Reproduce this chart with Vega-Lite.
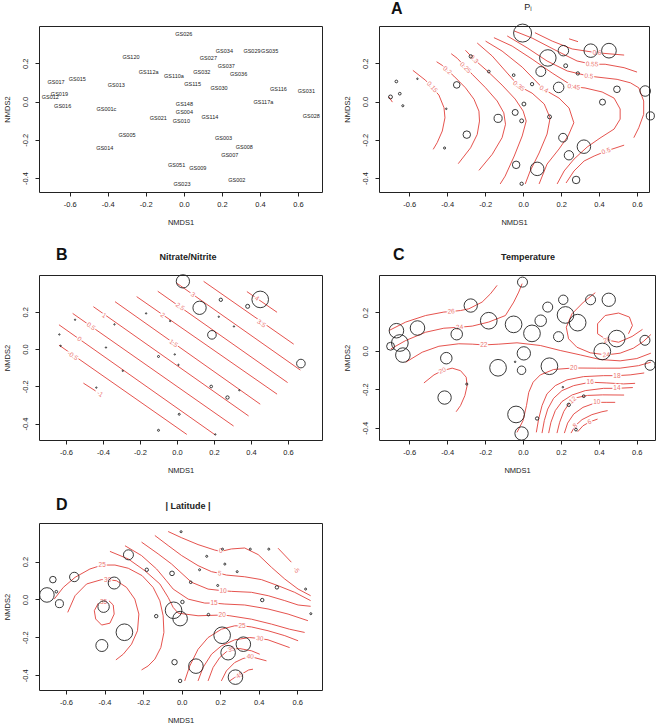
{
"$schema":"https://vega.github.io/schema/vega-lite/v6.json",
"background":"white",
"padding":{"left":3,"top":0,"right":3,"bottom":3},
"datasets":{
"sites":[
{"s":"GS026","x":-0.003,"y":0.358,"lx":0.0,"ly":0.354,"pi":0.6,"t":16.5,"lat":5.5},
{"s":"GS034","x":0.212,"y":0.266,"lx":0.213,"ly":0.265,"pi":0.35,"t":15.5,"lat":5.5},
{"s":"GS029","x":0.356,"y":0.266,"lx":0.358,"ly":0.265,"pi":0.45,"t":16.5,"lat":5.5},
{"s":"GS035","x":0.452,"y":0.266,"lx":0.451,"ly":0.265,"pi":0.49,"t":22,"lat":5.5},
{"s":"GS120","x":-0.276,"y":0.236,"lx":-0.278,"ly":0.235,"pi":0.11,"t":22,"lat":27.5},
{"s":"GS027","x":0.13,"y":0.228,"lx":0.129,"ly":0.226,"pi":0.55,"t":16.5,"lat":5.5},
{"s":"GS037","x":0.224,"y":0.187,"lx":0.223,"ly":0.186,"pi":0.13,"t":27.5,"lat":5.5},
{"s":"GS112a","x":-0.181,"y":0.157,"lx":-0.185,"ly":0.156,"pi":0.09,"t":27.5,"lat":9.4},
{"s":"GS032","x":0.093,"y":0.157,"lx":0.094,"ly":0.153,"pi":0.33,"t":19,"lat":5.5},
{"s":"GS036","x":0.288,"y":0.147,"lx":0.288,"ly":0.146,"pi":0.11,"t":27.5,"lat":5.5},
{"s":"GS110a","x":-0.05,"y":0.138,"lx":-0.052,"ly":0.136,"pi":0.09,"t":27.5,"lat":12.7},
{"s":"GS015","x":-0.557,"y":0.119,"lx":-0.56,"ly":0.12,"pi":0.05,"t":24,"lat":25.9},
{"s":"GS017","x":-0.668,"y":0.105,"lx":-0.672,"ly":0.102,"pi":0.09,"t":24,"lat":18},
{"s":"GS013","x":-0.35,"y":0.087,"lx":-0.355,"ly":0.087,"pi":0.22,"t":19,"lat":33},
{"s":"GS115","x":0.047,"y":0.091,"lx":0.046,"ly":0.092,"pi":0.11,"t":27.5,"lat":7.2},
{"s":"GS030","x":0.187,"y":0.074,"lx":0.185,"ly":0.073,"pi":0.35,"t":16.5,"lat":5.5},
{"s":"GS116","x":0.494,"y":0.064,"lx":0.497,"ly":0.064,"pi":0.22,"t":27.5,"lat":9.4},
{"s":"GS031","x":0.643,"y":0.055,"lx":0.644,"ly":0.054,"pi":0.35,"t":16.5,"lat":5.5},
{"s":"GS019","x":-0.65,"y":0.041,"lx":-0.654,"ly":0.04,"pi":0.09,"t":27.5,"lat":7.2},
{"s":"GS012","x":-0.699,"y":0.024,"lx":-0.702,"ly":0.024,"pi":0.13,"t":13,"lat":40},
{"s":"GS016","x":-0.634,"y":-0.022,"lx":-0.637,"ly":-0.021,"pi":0.07,"t":24,"lat":22},
{"s":"GS117a","x":0.418,"y":-0.003,"lx":0.418,"ly":-0.004,"pi":0.2,"t":27.5,"lat":9.4},
{"s":"GS148","x":0.004,"y":-0.013,"lx":0.003,"ly":-0.014,"pi":0.13,"t":22,"lat":9.4},
{"s":"GS001c","x":-0.405,"y":-0.038,"lx":-0.407,"ly":-0.037,"pi":0.05,"t":19,"lat":31.4},
{"s":"GS004","x":-0.042,"y":-0.057,"lx":0.003,"ly":-0.055,"pi":0.2,"t":2.5,"lat":45.7},
{"s":"GS114","x":0.139,"y":-0.08,"lx":0.137,"ly":-0.081,"pi":0.13,"t":27.5,"lat":7.2},
{"s":"GS021","x":-0.132,"y":-0.088,"lx":-0.134,"ly":-0.088,"pi":0.27,"t":27.5,"lat":9.4},
{"s":"GS010","x":-0.008,"y":-0.101,"lx":-0.013,"ly":-0.102,"pi":0.13,"t":14,"lat":40},
{"s":"GS028","x":0.67,"y":-0.075,"lx":0.67,"ly":-0.076,"pi":0.27,"t":16.5,"lat":5.5},
{"s":"GS005","x":-0.297,"y":-0.173,"lx":-0.299,"ly":-0.173,"pi":0.25,"t":3.5,"lat":45.7},
{"s":"GS003","x":0.21,"y":-0.189,"lx":0.209,"ly":-0.191,"pi":0.29,"t":2.5,"lat":45.7},
{"s":"GS014","x":-0.414,"y":-0.243,"lx":-0.416,"ly":-0.241,"pi":0.07,"t":22,"lat":33},
{"s":"GS008","x":0.32,"y":-0.236,"lx":0.318,"ly":-0.238,"pi":0.45,"t":4.5,"lat":40},
{"s":"GS007","x":0.241,"y":-0.281,"lx":0.241,"ly":-0.28,"pi":0.31,"t":5.5,"lat":40},
{"s":"GS051","x":-0.037,"y":-0.331,"lx":-0.038,"ly":-0.332,"pi":0.25,"t":27.5,"lat":14.9},
{"s":"GS009","x":0.074,"y":-0.352,"lx":0.073,"ly":-0.349,"pi":0.45,"t":5.5,"lat":40},
{"s":"GS002","x":0.279,"y":-0.41,"lx":0.278,"ly":-0.41,"pi":0.25,"t":4.5,"lat":40},
{"s":"GS023","x":-0.008,"y":-0.43,"lx":-0.01,"ly":-0.431,"pi":0.11,"t":22,"lat":9.4}
],
"nitrate":[
{"x":0.032,"y":0.363,"n":4.0},{"x":0.122,"y":0.221,"n":4.0},{"x":0.45,"y":0.266,"n":5.0},{"x":0.237,"y":0.264,"n":1.0},
{"x":0.382,"y":0.229,"n":1.2},{"x":0.226,"y":0.173,"n":0.4},{"x":0.308,"y":0.121,"n":0.4},{"x":0.189,"y":0.076,"n":2.6},
{"x":0.67,"y":-0.078,"n":2.6},{"x":-0.636,"y":0.078,"n":0.4},{"x":-0.551,"y":0.157,"n":0.4},{"x":-0.629,"y":0.017,"n":0.4},
{"x":-0.338,"y":0.132,"n":0.4},{"x":-0.384,"y":0.008,"n":0.4},{"x":-0.293,"y":-0.117,"n":0.4},{"x":-0.436,"y":-0.207,"n":0.4},
{"x":-0.167,"y":0.191,"n":0.4},{"x":-0.037,"y":0.15,"n":0.4},{"x":-0.1,"y":-0.04,"n":0.6},{"x":-0.012,"y":-0.029,"n":0.4},
{"x":0.008,"y":-0.085,"n":0.4},{"x":0.185,"y":-0.201,"n":0.8},{"x":0.273,"y":-0.26,"n":1.0},{"x":0.337,"y":-0.221,"n":0.4},
{"x":0.012,"y":-0.35,"n":0.6},{"x":-0.1,"y":-0.436,"n":0.6},{"x":0.207,"y":-0.458,"n":0.4}
],
"cA":[
{"g":"a10","x":-0.707,"y":0.024},{"g":"a10","x":-0.689,"y":-0.003},
{"g":"a15","x":-0.581,"y":0.163},{"g":"a15","x":-0.514,"y":0.111},{"g":"a15","x":-0.444,"y":0.034},{"g":"a15","x":-0.417,"y":-0.032},{"g":"a15","x":-0.412,"y":-0.085},{"g":"a15","x":-0.426,"y":-0.154},{"g":"a15","x":-0.453,"y":-0.215},{"g":"a15","x":-0.474,"y":-0.25},
{"g":"a20","x":-0.456,"y":0.208},{"g":"a20","x":-0.426,"y":0.189},{"g":"a20","x":-0.365,"y":0.133},{"g":"a20","x":-0.304,"y":0.072},{"g":"a20","x":-0.259,"y":0.012},{"g":"a20","x":-0.233,"y":-0.05},{"g":"a20","x":-0.23,"y":-0.102},{"g":"a20","x":-0.242,"y":-0.172},{"g":"a20","x":-0.277,"y":-0.242},{"g":"a20","x":-0.342,"y":-0.325},
{"g":"a25","x":-0.379,"y":0.25},{"g":"a25","x":-0.347,"y":0.226},{"g":"a25","x":-0.268,"y":0.142},{"g":"a25","x":-0.198,"y":0.072},{"g":"a25","x":-0.137,"y":0.003},{"g":"a25","x":-0.102,"y":-0.059},{"g":"a25","x":-0.093,"y":-0.119},{"g":"a25","x":-0.111,"y":-0.189},{"g":"a25","x":-0.163,"y":-0.276},{"g":"a25","x":-0.233,"y":-0.36},
{"g":"a30","x":-0.304,"y":0.268},{"g":"a30","x":-0.259,"y":0.221},{"g":"a30","x":-0.189,"y":0.16},{"g":"a30","x":-0.111,"y":0.086},{"g":"a30","x":-0.042,"y":0.013},{"g":"a30","x":0.0,"y":-0.05},{"g":"a30","x":0.016,"y":-0.102},{"g":"a30","x":-0.005,"y":-0.18},{"g":"a30","x":-0.047,"y":-0.285},{"g":"a30","x":-0.095,"y":-0.39},{"g":"a30","x":-0.121,"y":-0.431},
{"g":"a35","x":-0.242,"y":0.306},{"g":"a35","x":-0.163,"y":0.238},{"g":"a35","x":-0.084,"y":0.149},{"g":"a35","x":-0.023,"y":0.081},{"g":"a35","x":0.047,"y":0.044},{"g":"a35","x":0.111,"y":-0.013},{"g":"a35","x":0.142,"y":-0.086},{"g":"a35","x":0.126,"y":-0.17},{"g":"a35","x":0.084,"y":-0.269},{"g":"a35","x":0.037,"y":-0.363},{"g":"a35","x":0.011,"y":-0.431},
{"g":"a40","x":-0.198,"y":0.316},{"g":"a40","x":-0.111,"y":0.264},{"g":"a40","x":-0.005,"y":0.18},{"g":"a40","x":0.109,"y":0.064},{"g":"a40","x":0.189,"y":0.018},{"g":"a40","x":0.242,"y":-0.034},{"g":"a40","x":0.267,"y":-0.111},{"g":"a40","x":0.237,"y":-0.18},{"g":"a40","x":0.189,"y":-0.248},{"g":"a40","x":0.126,"y":-0.327},{"g":"a40","x":0.084,"y":-0.431},
{"g":"a45","x":-0.154,"y":0.334},{"g":"a45","x":-0.058,"y":0.29},{"g":"a45","x":0.047,"y":0.222},{"g":"a45","x":0.153,"y":0.149},{"g":"a45","x":0.267,"y":0.077},{"g":"a45","x":0.326,"y":0.071},{"g":"a45","x":0.416,"y":0.05},{"g":"a45","x":0.479,"y":0.018},{"g":"a45","x":0.511,"y":-0.039},{"g":"a45","x":0.511,"y":-0.092},{"g":"a45","x":0.479,"y":-0.144},{"g":"a45","x":0.405,"y":-0.191},{"g":"a45","x":0.337,"y":-0.238},{"g":"a45","x":0.268,"y":-0.301},{"g":"a45","x":0.216,"y":-0.363},{"g":"a45","x":0.179,"y":-0.431},
{"g":"a50","x":-0.084,"y":0.343},{"g":"a50","x":0.021,"y":0.281},{"g":"a50","x":0.126,"y":0.212},{"g":"a50","x":0.232,"y":0.16},{"g":"a50","x":0.346,"y":0.133},{"g":"a50","x":0.495,"y":0.116},{"g":"a50","x":0.565,"y":0.098},{"g":"a50","x":0.609,"y":0.072},{"g":"a50","x":0.635,"y":0.003},{"g":"a50","x":0.635,"y":-0.067},{"g":"a50","x":0.609,"y":-0.137},{"g":"a50","x":0.583,"y":-0.189},
{"g":"a50b","x":0.226,"y":-0.426},{"g":"a50b","x":0.268,"y":-0.363},{"g":"a50b","x":0.321,"y":-0.311},{"g":"a50b","x":0.374,"y":-0.285},{"g":"a50b","x":0.437,"y":-0.259},{"g":"a50b","x":0.532,"y":-0.228},
{"g":"a55","x":-0.047,"y":0.369},{"g":"a55","x":0.047,"y":0.332},{"g":"a55","x":0.179,"y":0.264},{"g":"a55","x":0.284,"y":0.212},{"g":"a55","x":0.363,"y":0.195},{"g":"a55","x":0.432,"y":0.195},{"g":"a55","x":0.532,"y":0.177},{"g":"a55","x":0.6,"y":0.154},
{"g":"a60","x":0.062,"y":0.36},{"g":"a60","x":0.153,"y":0.316},{"g":"a60","x":0.258,"y":0.275},{"g":"a60","x":0.389,"y":0.255},{"g":"a60","x":0.532,"y":0.243},
{"g":"a65","x":0.242,"y":0.328},{"g":"a65","x":0.289,"y":0.313}
],
"lA":[
{"t":"0.15","x":-0.479,"y":0.076,"a":48},{"t":"0.2","x":-0.4,"y":0.163,"a":40},{"t":"0.25","x":-0.304,"y":0.177,"a":44},{"t":"0.3","x":-0.259,"y":0.221,"a":45},
{"t":"0.35","x":-0.023,"y":0.081,"a":35},{"t":"0.4","x":0.109,"y":0.064,"a":28},{"t":"0.45","x":0.267,"y":0.077,"a":8},{"t":"0.5","x":0.346,"y":0.133,"a":5},
{"t":"0.55","x":0.363,"y":0.195,"a":2},{"t":"0.6","x":0.389,"y":0.255,"a":3},{"t":"0.5","x":0.437,"y":-0.259,"a":-20}
],
"cB":[
{"g":"bm1","x":-0.506,"y":-0.183},{"g":"bm1","x":-0.44,"y":-0.225},
{"g":"bm05","x":-0.638,"y":0.021},{"g":"bm05","x":0.053,"y":-0.458},
{"g":"b0","x":-0.638,"y":0.13},{"g":"b0","x":0.207,"y":-0.461},
{"g":"b05","x":-0.564,"y":0.191},{"g":"b05","x":0.306,"y":-0.413},
{"g":"b1","x":-0.452,"y":0.227},{"g":"b1","x":0.387,"y":-0.359},
{"g":"b15","x":-0.335,"y":0.254},{"g":"b15","x":0.45,"y":-0.296},
{"g":"b2","x":-0.218,"y":0.281},{"g":"b2","x":0.541,"y":-0.242},
{"g":"b25","x":-0.104,"y":0.31},{"g":"b25","x":0.598,"y":-0.18},
{"g":"b3","x":-0.001,"y":0.353},{"g":"b3","x":0.667,"y":-0.113},
{"g":"b35","x":0.144,"y":0.363},{"g":"b35","x":0.631,"y":0.026},
{"g":"b4","x":0.378,"y":0.308},{"g":"b4","x":0.541,"y":0.197}
],
"lB":[
{"t":"-1","x":-0.416,"y":-0.242,"a":35},{"t":"-0.5","x":-0.564,"y":-0.036,"a":35},{"t":"0","x":-0.528,"y":0.053,"a":35},{"t":"0.5","x":-0.465,"y":0.121,"a":35},
{"t":"1","x":-0.394,"y":0.179,"a":35},{"t":"1.5","x":-0.019,"y":0.03,"a":35},{"t":"2","x":-0.077,"y":0.182,"a":35},{"t":"2.5","x":0.017,"y":0.227,"a":35},
{"t":"3","x":0.086,"y":0.292,"a":35},{"t":"3.5","x":0.456,"y":0.137,"a":35},{"t":"4","x":0.432,"y":0.272,"a":35}
],
"cC":[
{"g":"c26","x":-0.707,"y":0.106},{"g":"c26","x":-0.619,"y":0.15},{"g":"c26","x":-0.514,"y":0.184},{"g":"c26","x":-0.418,"y":0.202},{"g":"c26","x":-0.379,"y":0.205},{"g":"c26","x":-0.33,"y":0.21},{"g":"c26","x":-0.286,"y":0.219},{"g":"c26","x":-0.216,"y":0.254},{"g":"c26","x":-0.172,"y":0.297},{"g":"c26","x":-0.137,"y":0.341},
{"g":"c24","x":-0.698,"y":0.01},{"g":"c24","x":-0.619,"y":0.054},{"g":"c24","x":-0.514,"y":0.097},{"g":"c24","x":-0.418,"y":0.118},{"g":"c24","x":-0.335,"y":0.123},{"g":"c24","x":-0.268,"y":0.129},{"g":"c24","x":-0.181,"y":0.15},{"g":"c24","x":-0.093,"y":0.184},{"g":"c24","x":-0.049,"y":0.254},{"g":"c24","x":-0.023,"y":0.306},{"g":"c24","x":-0.005,"y":0.35},
{"g":"c22","x":-0.619,"y":-0.059},{"g":"c22","x":-0.532,"y":-0.007},{"g":"c22","x":-0.444,"y":0.024},{"g":"c22","x":-0.339,"y":0.037},{"g":"c22","x":-0.268,"y":0.035},{"g":"c22","x":-0.207,"y":0.031},{"g":"c22","x":-0.128,"y":0.035},{"g":"c22","x":-0.032,"y":0.042},{"g":"c22","x":0.091,"y":0.028},{"g":"c22","x":0.196,"y":0.002},{"g":"c22","x":0.302,"y":-0.021},{"g":"c22","x":0.407,"y":-0.045},{"g":"c22","x":0.512,"y":-0.052},{"g":"c22","x":0.6,"y":-0.04},{"g":"c22","x":0.674,"y":-0.012},
{"g":"c24b","x":0.381,"y":0.303},{"g":"c24b","x":0.319,"y":0.254},{"g":"c24b","x":0.258,"y":0.193},{"g":"c24b","x":0.228,"y":0.123},{"g":"c24b","x":0.24,"y":0.063},{"g":"c24b","x":0.284,"y":0.019},{"g":"c24b","x":0.354,"y":-0.01},{"g":"c24b","x":0.439,"y":-0.021},{"g":"c24b","x":0.512,"y":-0.012},{"g":"c24b","x":0.582,"y":0.014},{"g":"c24b","x":0.635,"y":0.049},{"g":"c24b","x":0.674,"y":0.085},
{"g":"c26b","x":0.556,"y":0.089},{"g":"c26b","x":0.577,"y":0.132},{"g":"c26b","x":0.561,"y":0.176},{"g":"c26b","x":0.504,"y":0.197},{"g":"c26b","x":0.433,"y":0.184},{"g":"c26b","x":0.393,"y":0.141},{"g":"c26b","x":0.393,"y":0.089},{"g":"c26b","x":0.442,"y":0.057},{"g":"c26b","x":0.504,"y":0.045},{"g":"c26b","x":0.575,"y":0.075},{"g":"c26b","x":0.63,"y":0.112},
{"g":"c20a","x":-0.523,"y":-0.167},{"g":"c20a","x":-0.47,"y":-0.125},{"g":"c20a","x":-0.426,"y":-0.103},{"g":"c20a","x":-0.374,"y":-0.09},{"g":"c20a","x":-0.33,"y":-0.103},{"g":"c20a","x":-0.3,"y":-0.137},{"g":"c20a","x":-0.295,"y":-0.181},{"g":"c20a","x":-0.307,"y":-0.233},{"g":"c20a","x":-0.33,"y":-0.285},{"g":"c20a","x":-0.353,"y":-0.317},
{"g":"c20","x":-0.032,"y":-0.424},{"g":"c20","x":0.0,"y":-0.363},{"g":"c20","x":0.018,"y":-0.285},{"g":"c20","x":0.03,"y":-0.216},{"g":"c20","x":0.053,"y":-0.163},{"g":"c20","x":0.091,"y":-0.125},{"g":"c20","x":0.161,"y":-0.097},{"g":"c20","x":0.267,"y":-0.089},{"g":"c20","x":0.389,"y":-0.09},{"g":"c20","x":0.512,"y":-0.09},{"g":"c20","x":0.609,"y":-0.077},{"g":"c20","x":0.674,"y":-0.059},
{"g":"c18","x":0.07,"y":-0.424},{"g":"c18","x":0.082,"y":-0.355},{"g":"c18","x":0.1,"y":-0.285},{"g":"c18","x":0.126,"y":-0.224},{"g":"c18","x":0.17,"y":-0.181},{"g":"c18","x":0.232,"y":-0.151},{"g":"c18","x":0.319,"y":-0.134},{"g":"c18","x":0.425,"y":-0.129},{"g":"c18","x":0.495,"y":-0.129},{"g":"c18","x":0.565,"y":-0.125},{"g":"c18","x":0.639,"y":-0.115},
{"g":"c16","x":0.1,"y":-0.428},{"g":"c16","x":0.112,"y":-0.363},{"g":"c16","x":0.13,"y":-0.303},{"g":"c16","x":0.161,"y":-0.247},{"g":"c16","x":0.205,"y":-0.207},{"g":"c16","x":0.267,"y":-0.181},{"g":"c16","x":0.354,"y":-0.163},{"g":"c16","x":0.442,"y":-0.167},{"g":"c16","x":0.53,"y":-0.172},{"g":"c16","x":0.591,"y":-0.169},
{"g":"c14","x":0.135,"y":-0.428},{"g":"c14","x":0.147,"y":-0.372},{"g":"c14","x":0.17,"y":-0.311},{"g":"c14","x":0.205,"y":-0.264},{"g":"c14","x":0.258,"y":-0.23},{"g":"c14","x":0.328,"y":-0.207},{"g":"c14","x":0.425,"y":-0.195},{"g":"c14","x":0.495,"y":-0.195},{"g":"c14","x":0.579,"y":-0.191},
{"g":"c12","x":0.179,"y":-0.428},{"g":"c12","x":0.193,"y":-0.372},{"g":"c12","x":0.215,"y":-0.315},{"g":"c12","x":0.245,"y":-0.27},{"g":"c12","x":0.285,"y":-0.243},{"g":"c12","x":0.34,"y":-0.232},{"g":"c12","x":0.42,"y":-0.229},{"g":"c12","x":0.533,"y":-0.23},
{"g":"c10","x":0.218,"y":-0.428},{"g":"c10","x":0.235,"y":-0.376},{"g":"c10","x":0.267,"y":-0.329},{"g":"c10","x":0.316,"y":-0.294},{"g":"c10","x":0.389,"y":-0.268},{"g":"c10","x":0.442,"y":-0.268},{"g":"c10","x":0.486,"y":-0.268},
{"g":"c8","x":0.253,"y":-0.428},{"g":"c8","x":0.275,"y":-0.39},{"g":"c8","x":0.311,"y":-0.358},{"g":"c8","x":0.363,"y":-0.332},{"g":"c8","x":0.416,"y":-0.317},{"g":"c8","x":0.446,"y":-0.311},
{"g":"c6","x":0.288,"y":-0.421},{"g":"c6","x":0.316,"y":-0.39},{"g":"c6","x":0.351,"y":-0.37},{"g":"c6","x":0.393,"y":-0.355}
],
"lC":[
{"t":"26","x":-0.379,"y":0.205,"a":-4},{"t":"24","x":-0.335,"y":0.123,"a":-4},{"t":"22","x":-0.207,"y":0.031,"a":0},{"t":"20","x":-0.426,"y":-0.103,"a":-25},
{"t":"24","x":0.439,"y":-0.021,"a":-5},{"t":"26","x":0.442,"y":0.057,"a":-20},{"t":"20","x":0.267,"y":-0.089,"a":0},{"t":"18","x":0.495,"y":-0.129,"a":0},
{"t":"16","x":0.354,"y":-0.163,"a":0},{"t":"14","x":0.495,"y":-0.195,"a":0},{"t":"12","x":0.262,"y":-0.256,"a":-40},{"t":"10","x":0.389,"y":-0.268,"a":0},
{"t":"8","x":0.275,"y":-0.39,"a":-40},{"t":"6","x":0.351,"y":-0.37,"a":-25}
],
"cD":[
{"g":"d0","x":-0.07,"y":0.359},{"g":"d0","x":0.0,"y":0.326},{"g":"d0","x":0.085,"y":0.29},{"g":"d0","x":0.172,"y":0.261},{"g":"d0","x":0.203,"y":0.254},{"g":"d0","x":0.258,"y":0.267},{"g":"d0","x":0.327,"y":0.272},{"g":"d0","x":0.397,"y":0.237},{"g":"d0","x":0.466,"y":0.17},{"g":"d0","x":0.535,"y":0.108},{"g":"d0","x":0.604,"y":0.055},{"g":"d0","x":0.669,"y":0.02},
{"g":"d5","x":-0.139,"y":0.338},{"g":"d5","x":-0.07,"y":0.285},{"g":"d5","x":0.0,"y":0.232},{"g":"d5","x":0.085,"y":0.179},{"g":"d5","x":0.155,"y":0.147},{"g":"d5","x":0.198,"y":0.138},{"g":"d5","x":0.232,"y":0.129},{"g":"d5","x":0.327,"y":0.12},{"g":"d5","x":0.414,"y":0.105},{"g":"d5","x":0.5,"y":0.073},{"g":"d5","x":0.586,"y":0.038},{"g":"d5","x":0.669,"y":-0.006},
{"g":"d10","x":-0.208,"y":0.303},{"g":"d10","x":-0.122,"y":0.241},{"g":"d10","x":-0.053,"y":0.188},{"g":"d10","x":0.051,"y":0.091},{"g":"d10","x":0.137,"y":0.055},{"g":"d10","x":0.215,"y":0.046},{"g":"d10","x":0.258,"y":0.043},{"g":"d10","x":0.362,"y":0.038},{"g":"d10","x":0.449,"y":0.02},{"g":"d10","x":0.535,"y":-0.006},{"g":"d10","x":0.604,"y":-0.029},{"g":"d10","x":0.669,"y":-0.036},
{"g":"d15","x":-0.294,"y":0.284},{"g":"d15","x":-0.208,"y":0.232},{"g":"d15","x":-0.13,"y":0.161},{"g":"d15","x":-0.079,"y":0.099},{"g":"d15","x":-0.044,"y":0.055},{"g":"d15","x":0.034,"y":0.002},{"g":"d15","x":0.12,"y":-0.019},{"g":"d15","x":0.168,"y":-0.019},{"g":"d15","x":0.224,"y":-0.024},{"g":"d15","x":0.327,"y":-0.029},{"g":"d15","x":0.448,"y":-0.05},{"g":"d15","x":0.552,"y":-0.077},{"g":"d15","x":0.655,"y":-0.112},
{"g":"d20","x":-0.372,"y":0.254},{"g":"d20","x":-0.277,"y":0.214},{"g":"d20","x":-0.191,"y":0.152},{"g":"d20","x":-0.113,"y":0.082},{"g":"d20","x":-0.07,"y":0.011},{"g":"d20","x":-0.044,"y":-0.042},{"g":"d20","x":-0.018,"y":-0.072},{"g":"d20","x":0.085,"y":-0.086},{"g":"d20","x":0.21,"y":-0.082},{"g":"d20","x":0.25,"y":-0.086},{"g":"d20","x":0.362,"y":-0.104},{"g":"d20","x":0.466,"y":-0.13},{"g":"d20","x":0.56,"y":-0.157},{"g":"d20","x":0.638,"y":-0.174},
{"g":"d25L","x":-0.661,"y":0.002},{"g":"d25L","x":-0.614,"y":0.064},{"g":"d25L","x":-0.553,"y":0.117},{"g":"d25L","x":-0.476,"y":0.161},{"g":"d25L","x":-0.412,"y":0.182},{"g":"d25L","x":-0.346,"y":0.182},{"g":"d25L","x":-0.277,"y":0.165},{"g":"d25L","x":-0.205,"y":0.126},{"g":"d25L","x":-0.148,"y":0.064},{"g":"d25L","x":-0.113,"y":-0.007},{"g":"d25L","x":-0.096,"y":-0.086},{"g":"d25L","x":-0.092,"y":-0.174},{"g":"d25L","x":-0.108,"y":-0.254},{"g":"d25L","x":-0.139,"y":-0.315},{"g":"d25L","x":-0.174,"y":-0.351},{"g":"d25L","x":-0.208,"y":-0.372},
{"g":"d30L","x":-0.591,"y":-0.068},{"g":"d30L","x":-0.553,"y":0.02},{"g":"d30L","x":-0.493,"y":0.082},{"g":"d30L","x":-0.415,"y":0.105},{"g":"d30L","x":-0.384,"y":0.105},{"g":"d30L","x":-0.338,"y":0.099},{"g":"d30L","x":-0.286,"y":0.064},{"g":"d30L","x":-0.243,"y":0.002},{"g":"d30L","x":-0.222,"y":-0.077},{"g":"d30L","x":-0.229,"y":-0.165},{"g":"d30L","x":-0.26,"y":-0.236},{"g":"d30L","x":-0.303,"y":-0.289},{"g":"d30L","x":-0.341,"y":-0.319},
{"g":"d35L","x":-0.377,"y":-0.007},{"g":"d35L","x":-0.355,"y":-0.029},{"g":"d35L","x":-0.35,"y":-0.077},{"g":"d35L","x":-0.372,"y":-0.125},{"g":"d35L","x":-0.415,"y":-0.135},{"g":"d35L","x":-0.446,"y":-0.103},{"g":"d35L","x":-0.453,"y":-0.059},{"g":"d35L","x":-0.432,"y":-0.019},
{"g":"d25R","x":0.016,"y":-0.43},{"g":"d25R","x":0.042,"y":-0.351},{"g":"d25R","x":0.085,"y":-0.263},{"g":"d25R","x":0.137,"y":-0.201},{"g":"d25R","x":0.206,"y":-0.157},{"g":"d25R","x":0.275,"y":-0.139},{"g":"d25R","x":0.313,"y":-0.139},{"g":"d25R","x":0.362,"y":-0.145},{"g":"d25R","x":0.448,"y":-0.165},{"g":"d25R","x":0.535,"y":-0.191},{"g":"d25R","x":0.604,"y":-0.218},
{"g":"d30R","x":0.085,"y":-0.43},{"g":"d30R","x":0.111,"y":-0.359},{"g":"d30R","x":0.155,"y":-0.289},{"g":"d30R","x":0.206,"y":-0.245},{"g":"d30R","x":0.275,"y":-0.213},{"g":"d30R","x":0.353,"y":-0.201},{"g":"d30R","x":0.405,"y":-0.206},{"g":"d30R","x":0.448,"y":-0.213},{"g":"d30R","x":0.5,"y":-0.232},{"g":"d30R","x":0.56,"y":-0.254},
{"g":"d35R","x":0.137,"y":-0.43},{"g":"d35R","x":0.163,"y":-0.359},{"g":"d35R","x":0.198,"y":-0.306},{"g":"d35R","x":0.232,"y":-0.276},{"g":"d35R","x":0.258,"y":-0.262},{"g":"d35R","x":0.301,"y":-0.259},{"g":"d35R","x":0.362,"y":-0.271},{"g":"d35R","x":0.405,"y":-0.289},
{"g":"d40","x":0.206,"y":-0.43},{"g":"d40","x":0.232,"y":-0.377},{"g":"d40","x":0.275,"y":-0.333},{"g":"d40","x":0.318,"y":-0.312},{"g":"d40","x":0.356,"y":-0.301},{"g":"d40","x":0.396,"y":-0.312},{"g":"d40","x":0.44,"y":-0.324},
{"g":"d45","x":0.249,"y":-0.43},{"g":"d45","x":0.275,"y":-0.412},{"g":"d45","x":0.301,"y":-0.4},{"g":"d45","x":0.348,"y":-0.372},{"g":"d45","x":0.37,"y":-0.368},
{"g":"dm5","x":0.5,"y":0.271},{"g":"dm5","x":0.569,"y":0.197}
],
"lD":[
{"t":"0","x":0.203,"y":0.254,"a":0},{"t":"5","x":0.198,"y":0.138,"a":5},{"t":"10","x":0.215,"y":0.046,"a":3},{"t":"15","x":0.168,"y":-0.019,"a":0},
{"t":"20","x":0.21,"y":-0.082,"a":0},{"t":"25","x":-0.412,"y":0.182,"a":0},{"t":"30","x":-0.384,"y":0.105,"a":0},{"t":"35","x":-0.405,"y":-0.015,"a":0},
{"t":"25","x":0.313,"y":-0.139,"a":0},{"t":"30","x":0.405,"y":-0.206,"a":8},{"t":"35","x":0.258,"y":-0.262,"a":-20},{"t":"40","x":0.356,"y":-0.301,"a":5},
{"t":"45","x":0.301,"y":-0.4,"a":-30},{"t":"-5","x":0.595,"y":0.156,"a":50}
]
},
"concat":[
{
"width":283,"height":166,
"data":{"name":"sites"},
"mark":{"type":"text","fontSize":5.5,"color":"#222"},
"encoding":{
"x":{"field":"lx","type":"quantitative","scale":{"domain":[-0.7614,0.7261],"nice":false,"zero":false},"axis":{"values":[-0.6,-0.4,-0.2,0,0.2,0.4,0.6],"format":".1f","title":"NMDS1"}},
"y":{"field":"ly","type":"quantitative","scale":{"domain":[-0.473,0.395],"nice":false,"zero":false},"axis":{"values":[-0.4,-0.2,0,0.2],"format":".1f","title":"NMDS2"}},
"text":{"field":"s"}
}
},
{
"width":270,"height":166,
"title":{"text":"A","dx":12,"offset":-14.6},
"layer":[
{"data":{"name":"cA"},"mark":{"type":"line","color":"#e2403a","strokeWidth":0.9,"clip":true},
"encoding":{"x":{"field":"x","type":"quantitative","scale":{"domain":[-0.7595,0.663],"nice":false,"zero":false},"axis":{"orient":"top","title":"Pᵢ","labels":false,"ticks":false,"domain":false,"titleX":148.5,"titleY":-16.7,"titleAlign":"center","titleBaseline":"alphabetic","titleAngle":0,"titleFontSize":9,"titleFontWeight":"normal"}},
"y":{"field":"y","type":"quantitative","scale":{"domain":[-0.473,0.395],"nice":false,"zero":false}},
"detail":{"field":"g"},"order":{"value":null}}},
{"data":{"name":"lA"},"mark":{"type":"text","fill":"white","stroke":"white","strokeWidth":2.5,"fontSize":6.5,"clip":true},
"encoding":{"x":{"field":"x","type":"quantitative","axis":null},"y":{"field":"y","type":"quantitative"},"text":{"field":"t"},"angle":{"field":"a","type":"quantitative","scale":null}}},
{"data":{"name":"lA"},"mark":{"type":"text","fill":"#ec7470","fontSize":6.5,"clip":true},
"encoding":{"x":{"field":"x","type":"quantitative","axis":null},"y":{"field":"y","type":"quantitative"},"text":{"field":"t"},"angle":{"field":"a","type":"quantitative","scale":null}}},
{"data":{"name":"sites"},"mark":{"type":"point","shape":"circle","filled":false,"stroke":"#222","strokeWidth":0.9,"opacity":1},
"encoding":{"x":{"field":"x","type":"quantitative","axis":{"orient":"bottom","values":[-0.6,-0.4,-0.2,0,0.2,0.4,0.6],"format":".1f","title":"NMDS1"}},
"y":{"field":"y","type":"quantitative","axis":{"values":[-0.4,-0.2,0,0.2],"format":".1f","title":"NMDS2"}},
"size":{"field":"pi","type":"quantitative","scale":{"type":"pow","exponent":2,"domain":[0,0.6],"range":[0,324]},"legend":null}}}
],
"resolve":{"axis":{"x":"independent"}}
},
{
"width":283,"height":165,
"title":{"text":"B","dx":17,"offset":-10.9},
"layer":[
{"data":{"name":"cB"},"mark":{"type":"line","color":"#e2403a","strokeWidth":0.9,"clip":true},
"encoding":{"x":{"field":"x","type":"quantitative","scale":{"domain":[-0.746,0.784],"nice":false,"zero":false},"axis":{"orient":"top","title":"Nitrate/Nitrite","labels":false,"ticks":false,"domain":false,"titleX":148.5,"titleY":-15.5,"titleAlign":"center","titleBaseline":"alphabetic","titleAngle":0,"titleFontSize":9,"titleFontWeight":"bold"}},
"y":{"field":"y","type":"quantitative","scale":{"domain":[-0.488,0.397],"nice":false,"zero":false}},
"detail":{"field":"g"},"order":{"value":null}}},
{"data":{"name":"lB"},"mark":{"type":"text","fill":"white","stroke":"white","strokeWidth":2.5,"fontSize":6.5,"clip":true},
"encoding":{"x":{"field":"x","type":"quantitative","axis":null},"y":{"field":"y","type":"quantitative"},"text":{"field":"t"},"angle":{"field":"a","type":"quantitative","scale":null}}},
{"data":{"name":"lB"},"mark":{"type":"text","fill":"#ec7470","fontSize":6.5,"clip":true},
"encoding":{"x":{"field":"x","type":"quantitative","axis":null},"y":{"field":"y","type":"quantitative"},"text":{"field":"t"},"angle":{"field":"a","type":"quantitative","scale":null}}},
{"data":{"name":"nitrate"},"mark":{"type":"point","shape":"circle","filled":false,"stroke":"#222","strokeWidth":0.9,"opacity":1},
"encoding":{"x":{"field":"x","type":"quantitative","axis":{"orient":"bottom","values":[-0.6,-0.4,-0.2,0,0.2,0.4,0.6],"format":".1f","title":"NMDS1"}},
"y":{"field":"y","type":"quantitative","axis":{"values":[-0.4,-0.2,0,0.2],"format":".1f","title":"NMDS2"}},
"size":{"field":"n","type":"quantitative","scale":{"type":"pow","exponent":2,"domain":[0,5],"range":[0,276]},"legend":null}}}
],
"resolve":{"axis":{"x":"independent"}}
},
{
"width":276,"height":165,
"title":{"text":"C","dx":14,"offset":-10.9},
"layer":[
{"data":{"name":"cC"},"mark":{"type":"line","color":"#e2403a","strokeWidth":0.9,"clip":true},
"encoding":{"x":{"field":"x","type":"quantitative","scale":{"domain":[-0.76,0.696],"nice":false,"zero":false},"axis":{"orient":"top","title":"Temperature","labels":false,"ticks":false,"domain":false,"titleX":148.5,"titleY":-15.5,"titleAlign":"center","titleBaseline":"alphabetic","titleAngle":0,"titleFontSize":9,"titleFontWeight":"bold"}},
"y":{"field":"y","type":"quantitative","scale":{"domain":[-0.464,0.395],"nice":false,"zero":false}},
"detail":{"field":"g"},"order":{"value":null}}},
{"data":{"name":"lC"},"mark":{"type":"text","fill":"white","stroke":"white","strokeWidth":2.5,"fontSize":6.5,"clip":true},
"encoding":{"x":{"field":"x","type":"quantitative","axis":null},"y":{"field":"y","type":"quantitative"},"text":{"field":"t"},"angle":{"field":"a","type":"quantitative","scale":null}}},
{"data":{"name":"lC"},"mark":{"type":"text","fill":"#ec7470","fontSize":6.5,"clip":true},
"encoding":{"x":{"field":"x","type":"quantitative","axis":null},"y":{"field":"y","type":"quantitative"},"text":{"field":"t"},"angle":{"field":"a","type":"quantitative","scale":null}}},
{"data":{"name":"sites"},"mark":{"type":"point","shape":"circle","filled":false,"stroke":"#222","strokeWidth":0.9,"opacity":1},
"encoding":{"x":{"field":"x","type":"quantitative","axis":{"orient":"bottom","values":[-0.6,-0.4,-0.2,0,0.2,0.4,0.6],"format":".1f","title":"NMDS1"}},
"y":{"field":"y","type":"quantitative","axis":{"values":[-0.4,-0.2,0,0.2],"format":".1f","title":"NMDS2"}},
"size":{"field":"t","type":"quantitative","scale":{"type":"pow","exponent":2,"domain":[0,30],"range":[0,331]},"legend":null}}}
],
"resolve":{"axis":{"x":"independent"}}
},
{
"width":283,"height":167,
"title":{"text":"D","dx":17,"offset":-11.6},
"layer":[
{"data":{"name":"cD"},"mark":{"type":"line","color":"#e2403a","strokeWidth":0.9,"clip":true},
"encoding":{"x":{"field":"x","type":"quantitative","scale":{"domain":[-0.74,0.728],"nice":false,"zero":false},"axis":{"orient":"top","title":"| Latitude |","labels":false,"ticks":false,"domain":false,"titleX":148.5,"titleY":-14.5,"titleAlign":"center","titleBaseline":"alphabetic","titleAngle":0,"titleFontSize":9,"titleFontWeight":"bold"}},
"y":{"field":"y","type":"quantitative","scale":{"domain":[-0.478,0.404],"nice":false,"zero":false}},
"detail":{"field":"g"},"order":{"value":null}}},
{"data":{"name":"lD"},"mark":{"type":"text","fill":"white","stroke":"white","strokeWidth":2.5,"fontSize":6.5,"clip":true},
"encoding":{"x":{"field":"x","type":"quantitative","axis":null},"y":{"field":"y","type":"quantitative"},"text":{"field":"t"},"angle":{"field":"a","type":"quantitative","scale":null}}},
{"data":{"name":"lD"},"mark":{"type":"text","fill":"#ec7470","fontSize":6.5,"clip":true},
"encoding":{"x":{"field":"x","type":"quantitative","axis":null},"y":{"field":"y","type":"quantitative"},"text":{"field":"t"},"angle":{"field":"a","type":"quantitative","scale":null}}},
{"data":{"name":"sites"},"mark":{"type":"point","shape":"circle","filled":false,"stroke":"#222","strokeWidth":0.9,"opacity":1},
"encoding":{"x":{"field":"x","type":"quantitative","axis":{"orient":"bottom","values":[-0.6,-0.4,-0.2,0,0.2,0.4,0.6],"format":".1f","title":"NMDS1"}},
"y":{"field":"y","type":"quantitative","axis":{"values":[-0.4,-0.2,0,0.2],"format":".1f","title":"NMDS2"}},
"size":{"field":"lat","type":"quantitative","scale":{"type":"pow","exponent":2,"domain":[0,50],"range":[0,331]},"legend":null}}}
],
"resolve":{"axis":{"x":"independent"}}
}
],
"columns":2,
"spacing":{"row":83,"column":57},
"bounds":"flush",
"align":"each",
"resolve":{"scale":{"size":"independent"}},
"config":{
"font":"Liberation Sans",
"locale":{"number":{"decimal":".","thousands":",","grouping":[3],"currency":["$",""],"minus":"-"}},
"view":{"stroke":"#222","strokeWidth":1},
"axis":{"grid":false,"domain":false,"tickColor":"#222","tickSize":4,"labelFontSize":7.5,"titleFontSize":7.5,"titleFontWeight":"normal","labelColor":"#222","titleColor":"#222","labelOverlap":false,"labelBound":false,"labelFlush":false},
"axisX":{"labelPadding":4,"titlePadding":11},
"axisY":{"labelAngle":-90,"labelAlign":"center","labelBaseline":"middle","labelPadding":9.5,"titlePadding":10},
"title":{"fontSize":16,"fontWeight":"bold","anchor":"start","frame":"group","color":"#111","baseline":"alphabetic"},
"text":{"align":"center","baseline":"middle"}
}
}
